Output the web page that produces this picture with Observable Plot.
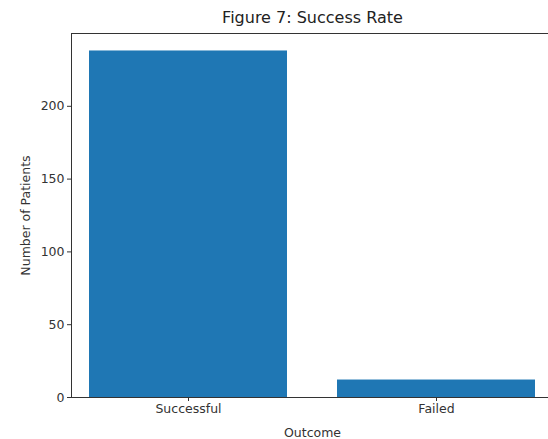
<!DOCTYPE html>
<html>
<head>
<meta charset="utf-8">
<script src="https://cdn.jsdelivr.net/npm/d3@7"></script>
<script src="https://cdn.jsdelivr.net/npm/@observablehq/plot@0.6"></script>
<style>
  html, body { margin: 0; padding: 0; background: #fff; overflow: hidden; }
  #chart { width: 548px; height: 439px; overflow: hidden; }
</style>
</head>
<body>
<div id="chart"></div>
<script>
const outcomes = ["Successful", "Failed"];
const patients = [238, 12];
const yTicks = [0, 50, 100, 150, 200];
const titleText = "Figure 7: Success Rate";
const xLabel = "Outcome";
const yLabel = "Number of Patients";

const data = outcomes.map((o, i) => ({outcome: o, count: patients[i]}));
const font = "DejaVu Sans, sans-serif";
const ink = "#333";

// left spine drawn from the plot's own frame dimensions
function leftSpine(index, scales, values, dims) {
  const svgns = "http://www.w3.org/2000/svg";
  const g = document.createElementNS(svgns, "g");
  const line = document.createElementNS(svgns, "line");
  const x = dims.marginLeft + 0.5;
  line.setAttribute("x1", x);
  line.setAttribute("x2", x);
  line.setAttribute("y1", dims.marginTop);
  line.setAttribute("y2", dims.height - dims.marginBottom);
  line.setAttribute("stroke", ink);
  line.setAttribute("stroke-width", 1);
  g.appendChild(line);
  return g;
}

const chart = Plot.plot({
  width: 548,
  height: 439,
  marginLeft: 71,
  marginRight: -5,
  marginTop: 33,
  marginBottom: 42,
  style: {fontFamily: font, fontSize: "12.5px", color: ink, background: "#fff", overflow: "hidden"},
  x: {domain: outcomes, paddingInner: 0.2, paddingOuter: 0.07, label: null},
  y: {domain: [0, 250], label: null},
  marks: [
    Plot.barY(data, {x: "outcome", y: "count", fill: "#1f77b4"}),
    Plot.ruleY([0, 250], {stroke: ink, strokeWidth: 1}),
    leftSpine,
    Plot.axisY({ticks: yTicks, tickSize: 4, tickPadding: 3, label: null, fontSize: 12.5, stroke: ink, fill: ink}),
    Plot.axisX({tickSize: 4, tickPadding: 3, label: null, fontSize: 12.5, stroke: ink, fill: ink}),
    Plot.text([titleText], {frameAnchor: "top", dy: -16, fontSize: 16, fill: "#222", textAnchor: "middle", lineAnchor: "middle"}),
    Plot.text([xLabel], {frameAnchor: "bottom", dy: 35, fontSize: 12.5, fill: ink, textAnchor: "middle", lineAnchor: "middle"}),
    Plot.text([yLabel], {frameAnchor: "left", dx: -46, rotate: -90, fontSize: 12.5, fill: ink, textAnchor: "middle", lineAnchor: "middle"})
  ]
});
document.getElementById("chart").appendChild(chart);
</script>
</body>
</html>
